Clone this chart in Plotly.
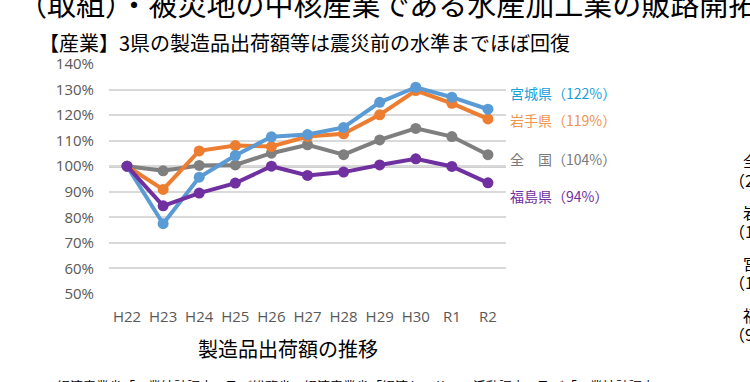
import plotly.graph_objects as go

categories = ["H22", "H23", "H24", "H25", "H26", "H27", "H28", "H29", "H30", "R1", "R2"]
zenkoku = [100, 98.2, 100.3, 100.5, 105.1, 108.4, 104.5, 110.3, 114.8, 111.6, 104.5]
iwate = [100, 90.9, 106.0, 108.1, 107.7, 111.6, 112.7, 120.1, 129.6, 124.6, 118.5]
miyagi = [100, 77.5, 95.7, 104.2, 111.5, 112.4, 115.2, 125.0, 130.9, 127.0, 122.3]
fukushima = [100, 84.5, 89.5, 93.4, 100.0, 96.4, 97.7, 100.5, 102.9, 99.9, 93.5]
y_ticks = [50, 60, 70, 80, 90, 100, 110, 120, 130, 140]
y_tick_labels = ["50%", "60%", "70%", "80%", "90%", "100%", "110%", "120%", "130%", "140%"]

series_names = ["全　国", "岩手県", "宮城県", "福島県"]
series_vals = [zenkoku, iwate, miyagi, fukushima]
line_colors = ["#7f7f7f", "#ed7d31", "#5b9bd5", "#7030a0"]
label_colors = ["#7a7a7a", "#f0944f", "#1a9fd9", "#7030a0"]
label_texts = ["全　国（104%）", "岩手県（119%）", "宮城県（122%）", "福島県（94%）"]
label_py = [159, 120, 93, 196]

W, H = 750, 382
L, R, T, B = 109, 244, 64, 88
PW, PH = W - L - R, H - T - B


def px(x):
    return (x - L) / PW


def py(y):
    return (H - B - y) / PH


JP = "Noto Sans CJK JP"
LAT = "Open Sans"

fig = go.Figure()
for name, vals, col in zip(series_names, series_vals, line_colors):
    fig.add_trace(go.Scatter(
        x=categories, y=vals, name=name, mode="lines+markers",
        line=dict(color=col, width=4),
        marker=dict(color=col, size=11),
        showlegend=False, cliponaxis=False,
    ))

fig.add_shape(type="line", xref="paper", yref="y", x0=0, x1=1, y0=100, y1=100,
              line=dict(color="#404040", width=2), layer="below")

annotations = []
for txt, col, yy in zip(label_texts, label_colors, label_py):
    annotations.append(dict(text=txt, xref="paper", yref="paper", x=px(508), y=py(yy),
                            xanchor="left", yanchor="middle", showarrow=False,
                            font=dict(family=JP, size=14, color=col)))

annotations.append(dict(text="【産業】3県の製造品出荷額等は震災前の水準までほぼ回復",
                        xref="paper", yref="paper", x=px(37), y=py(42),
                        xanchor="left", yanchor="middle", showarrow=False,
                        font=dict(family=JP, size=20, color="#000000")))
annotations.append(dict(text="（取組）・被災地の中核産業である水産加工業の販路開拓",
                        xref="paper", yref="paper", x=px(16), y=py(3),
                        xanchor="left", yanchor="middle", showarrow=False,
                        font=dict(family=JP, size=29, color="#000000")))
annotations.append(dict(text="製造品出荷額の推移",
                        xref="paper", yref="paper", x=px(288), y=py(348),
                        xanchor="center", yanchor="middle", showarrow=False,
                        font=dict(family=JP, size=20, color="#000000")))
annotations.append(dict(text="・経済産業省「工業統計調査」及び総務省・経済産業省「経済センサス‐活動調査」及び「工業統計調査」",
                        xref="paper", yref="paper", x=px(42), y=py(385),
                        xanchor="left", yanchor="middle", showarrow=False,
                        font=dict(family=JP, size=13, color="#000000")))
for txt, xx, yy in [("全国", 741, 160), ("（2", 727, 180), ("岩手", 741, 212), ("（1", 727, 231),
                    ("宮城", 741, 263), ("（1", 727, 282), ("福島", 741, 315), ("（9", 727, 334)]:
    annotations.append(dict(text=txt, xref="paper", yref="paper", x=px(xx), y=py(yy),
                            xanchor="left", yanchor="middle", showarrow=False,
                            font=dict(family=JP, size=16, color="#000000")))

fig.update_layout(
    width=W, height=H,
    margin=dict(l=L, r=R, t=T, b=B, autoexpand=False),
    paper_bgcolor="white", plot_bgcolor="white",
    annotations=annotations,
    xaxis=dict(type="category", range=[-0.5, 10.5], showgrid=False, showline=False, zeroline=False,
               ticks="", tickfont=dict(family=LAT, size=15, color="#595959"),
               ticklabelstandoff=12, automargin=False),
    yaxis=dict(range=[50, 140], tickvals=y_ticks, ticktext=y_tick_labels,
               showgrid=True, gridcolor="#d9d9d9", gridwidth=1.5,
               zeroline=False, showline=False, ticks="",
               tickfont=dict(family=LAT, size=15, color="#595959"),
               ticklabelstandoff=14, automargin=False),
)

fig.write_html("out.html", config={"displayModeBar": False},
               post_script="document.body.style.margin='0';document.body.style.overflow='hidden';")
